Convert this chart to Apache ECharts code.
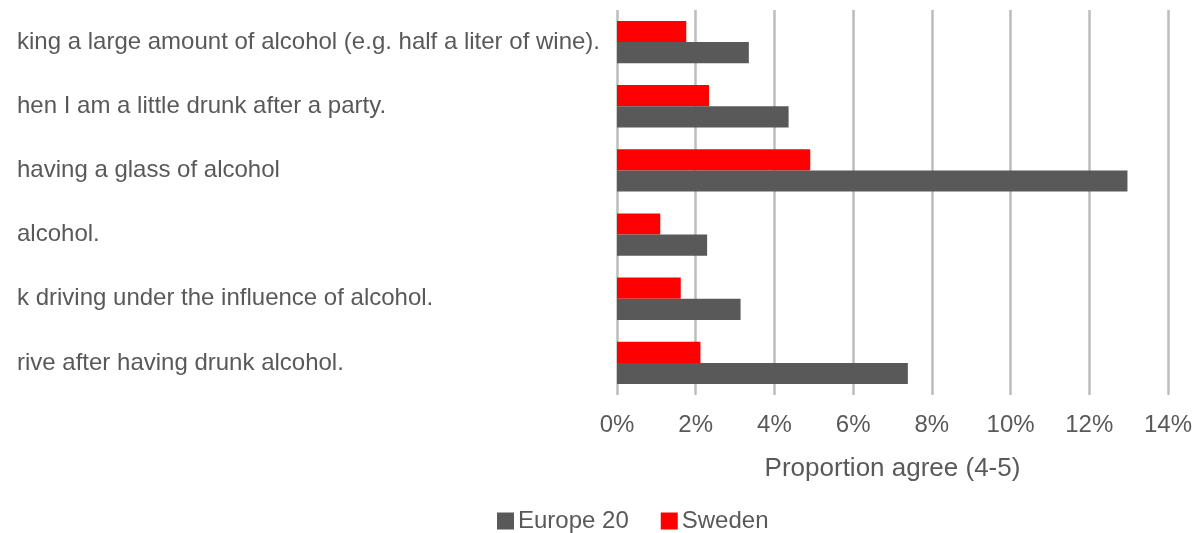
<!DOCTYPE html>
<html>
<head>
<meta charset="utf-8">
<script src="https://cdn.jsdelivr.net/npm/echarts@6/dist/echarts.min.js"></script>
<style>
  html, body { margin: 0; padding: 0; background: #ffffff; }
  #chart { width: 1196px; height: 533px; }
</style>
</head>
<body>
<div id="chart"></div>
<script>
// Statements (top to bottom) and share agreeing (4-5), in percent
const categories = [
  'king a large amount of alcohol (e.g. half a liter of wine).',
  'hen I am a little drunk after a party.',
  'having a glass of alcohol',
  'alcohol.',
  'k driving under the influence of alcohol.',
  'rive after having drunk alcohol.'
];
const europe20 = [3.35, 4.36, 12.97, 2.29, 3.14, 7.39];
const sweden = [1.76, 2.34, 4.91, 1.10, 1.62, 2.12];
const xTicks = { min: 0, max: 14, interval: 2 };

const textColor = '#595959';
const fontFamily = '"Liberation Sans", Arial, sans-serif';

const chart = echarts.init(document.getElementById('chart'), null, { renderer: 'canvas' });

chart.setOption({
  backgroundColor: '#ffffff',
  animation: false,
  textStyle: { fontFamily: fontFamily, color: textColor },
  grid: { left: 617, right: 28, top: 10, bottom: 138, containLabel: false },
  legend: {
    data: ['Europe 20', 'Sweden'],
    left: 497,
    top: 509,
    padding: 0,
    itemWidth: 17,
    itemHeight: 17,
    itemGap: 32,
    icon: 'rect',
    textStyle: { fontSize: 24, color: textColor, fontFamily: fontFamily, padding: [0, 0, 0, -1] }
  },
  xAxis: {
    type: 'value',
    min: xTicks.min,
    max: xTicks.max,
    interval: xTicks.interval,
    name: 'Proportion agree (4-5)',
    nameLocation: 'middle',
    nameGap: 61,
    nameTextStyle: { fontSize: 26, color: textColor, fontFamily: fontFamily },
    axisLine: { show: false },
    axisTick: { show: false },
    axisLabel: { formatter: '{value}%', fontSize: 24, color: textColor, margin: 18, fontFamily: fontFamily },
    splitLine: { show: true, lineStyle: { color: '#bdbdbd', width: 2.5 } }
  },
  yAxis: {
    type: 'category',
    data: categories,
    inverse: true,
    axisLine: { show: false },
    axisTick: { show: false },
    axisLabel: {
      align: 'left',
      margin: 600,
      fontSize: 24,
      color: textColor,
      fontFamily: fontFamily
    }
  },
  series: [
    {
      name: 'Sweden',
      type: 'bar',
      data: sweden,
      itemStyle: { color: '#ff0000' },
      barGap: '0%',
      barCategoryGap: '34%'
    },
    {
      name: 'Europe 20',
      type: 'bar',
      data: europe20,
      itemStyle: { color: '#595959' },
      barGap: '0%',
      barCategoryGap: '34%'
    }
  ]
});
</script>
</body>
</html>
